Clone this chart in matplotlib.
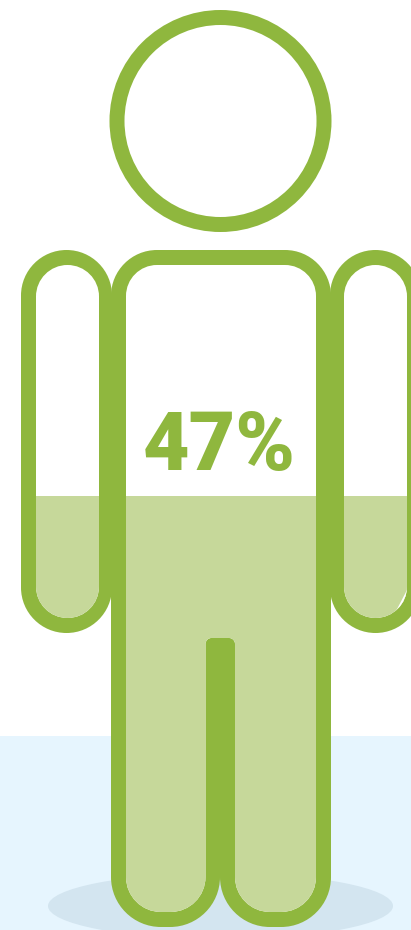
import matplotlib
matplotlib.use('Agg')
import matplotlib.pyplot as plt
from matplotlib.path import Path
from matplotlib.patches import PathPatch, Circle, Ellipse, Rectangle, Polygon
import numpy as np

# data
percent = 47
label = f"{percent}%"

GREEN = '#8FB73E'
LIGHT = '#C6D89A'
FLOOR = '#E6F5FE'
SHADOW = '#D3E5F0'

# figure extent in pixels, the fill level is a share of head top -> feet
FIG_TOP = 10
FIG_BOTTOM = 927
KAPPA = 0.5523


def rounded_path(corners):
    """Closed path from (x, y, radius) corners"""
    pts = np.array([c[:2] for c in corners], dtype=float)
    n = len(corners)
    verts, codes = [], []
    for i in range(n):
        p = pts[i]
        r = corners[i][2]
        to_prev = pts[i - 1] - p
        to_next = pts[(i + 1) % n] - p
        to_prev = to_prev / np.linalg.norm(to_prev)
        to_next = to_next / np.linalg.norm(to_next)
        start = p + to_prev * r
        end = p + to_next * r
        verts.append(start)
        codes.append(Path.MOVETO if i == 0 else Path.LINETO)
        if r > 0:
            verts += [start - to_prev * r * KAPPA, end - to_next * r * KAPPA, end]
            codes += [Path.CURVE4] * 3
    verts.append(verts[0])
    codes.append(Path.CLOSEPOLY)
    return Path(verts, codes)


def box(x0, x1, y0, y1, r):
    return rounded_path([(x0, y0, r), (x1, y0, r), (x1, y1, r), (x0, y1, r)])


def add_limb(ax, outer, inner, fill_y):
    """Green outline, white inside, light fill clipped to the inside"""
    ax.add_patch(PathPatch(outer, facecolor=GREEN, edgecolor='none'))
    inner_patch = PathPatch(inner, facecolor='white', edgecolor='none')
    ax.add_patch(inner_patch)
    level = Rectangle((0, fill_y), 411, 930 - fill_y, facecolor=LIGHT, edgecolor='none')
    ax.add_patch(level)
    level.set_clip_path(inner_patch)
    return inner_patch


fig = plt.figure(figsize=(4.11, 9.30), dpi=100)
ax = fig.add_axes([0, 0, 1, 1])
ax.set_xlim(0, 411)
ax.set_ylim(930, 0)
ax.axis('off')

fill_y = FIG_BOTTOM - (FIG_BOTTOM - FIG_TOP) * percent / 100

# floor and shadow
ax.add_patch(Rectangle((0, 736), 411, 194, facecolor=FLOOR, edgecolor='none'))
ax.add_patch(Ellipse((220.5, 906), 345, 66, facecolor=SHADOW, edgecolor='none'))

# head
ax.add_patch(Circle((220.5, 121), 111, facecolor=GREEN, edgecolor='none'))
ax.add_patch(Circle((220.5, 121), 96, facecolor='white', edgecolor='none'))

# arms
add_limb(ax, box(21, 112, 250, 633, 45.5), box(36, 99, 265, 618, 31.5), fill_y)
right_inner = add_limb(ax, box(330, 421, 250, 633, 45.5), box(344, 407, 265, 618, 31.5), fill_y)

# small white nick in the right hand
nick = Polygon([(407, 590), (395.5, 612), (407, 612)], facecolor='white', edgecolor='none')
ax.add_patch(nick)
nick.set_clip_path(right_inner)

# body with legs
body_outer = rounded_path([
    (111, 250, 46), (331, 250, 46), (331, 927, 50), (220, 927, 50),
    (220, 877, 0), (220, 927, 50), (111, 927, 50),
])
body_inner = rounded_path([
    (126, 265, 31), (316, 265, 31), (316, 912, 35), (235, 912, 35),
    (235, 638, 6), (205.5, 638, 6), (205.5, 912, 35), (126, 912, 35),
])
add_limb(ax, body_outer, body_inner, fill_y)

ax.text(219, 470, label, ha='center', va='baseline', color=GREEN, fontsize=58,
        fontweight=900, family=['Roboto', 'Liberation Sans', 'DejaVu Sans'])

fig.savefig('out.png', dpi=100)
